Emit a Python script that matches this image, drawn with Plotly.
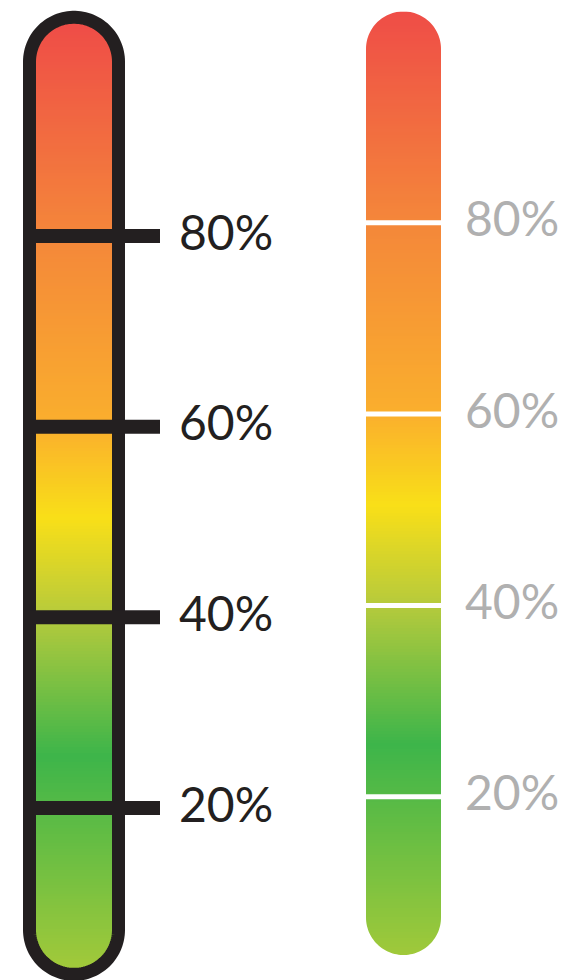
import numpy as np
import plotly.graph_objects as go

# ---------------- data ----------------
tick_values = [20, 40, 60, 80]
tick_labels = ["20%", "40%", "60%", "80%"]
gradient_stops = [3.5, 25.5, 40, 50.5, 60, 80, 102]          # percent positions
gradient_colors = ["#a0c93a", "#3db54a", "#b5ca3c", "#f9df18",
                   "#faaf2d", "#f4873a", "#ef4d47"]
bar_bottom, bar_top = 3.3, 102.1                               # extent of each bar (%)

# ---------------- layout config ----------------
W, H = 580, 980
OFF = 8  # page body margin of the browser
left_range = [1.12, 103.92]
right_range = [0.0, 102.46]
ZMIN, ZMAX = 0, 105

colorscale = [[0, gradient_colors[0]]]
for p, c in zip(gradient_stops, gradient_colors):
    colorscale.append([(p - ZMIN) / (ZMAX - ZMIN), c])
colorscale.append([1, gradient_colors[-1]])

fig = go.Figure()


def gradient_trace(x0, x1, y0, y1, yaxis):
    edges = np.linspace(y0, y1, 321)
    mids = (edges[:-1] + edges[1:]) / 2
    return go.Heatmap(
        x=[x0, x1], y=edges, z=[[v] for v in mids],
        colorscale=colorscale, zmin=ZMIN, zmax=ZMAX, showscale=False,
        hoverinfo="skip", yaxis=yaxis, xaxis="x",
    )


def px_per_unit(rng):
    return H / (rng[1] - rng[0])


def arc_points(cx, cy, r_px, k, start, end, n=60):
    t = np.linspace(start, end, n)
    xs = cx + r_px * np.cos(t)
    ys = cy + r_px * np.sin(t) / k
    return xs, ys


def mask_path(x0, x1, y0, y1, k):
    """White regions outside the rounded ends of a rectangle."""
    cx = (x0 + x1) / 2
    r = (x1 - x0) / 2
    rk = r / k
    pad = 3
    xs, ys = arc_points(cx, y1 - rk, r, k, np.pi, 0)
    d = f"M {x0 - pad},{y1 + 2 / k} L {x0 - pad},{y1 - rk} "
    d += " ".join(f"L {a},{b}" for a, b in zip(xs, ys))
    d += f" L {x1 + pad},{y1 - rk} L {x1 + pad},{y1 + 2 / k} Z "
    xs, ys = arc_points(cx, y0 + rk, r, k, np.pi, 2 * np.pi)
    d += f"M {x0 - pad},{y0 - 2 / k} L {x0 - pad},{y0 + rk} "
    d += " ".join(f"L {a},{b}" for a, b in zip(xs, ys))
    d += f" L {x1 + pad},{y0 + rk} L {x1 + pad},{y0 - 2 / k} Z"
    return d


def capsule_path(x0, x1, y0, y1, k):
    cx = (x0 + x1) / 2
    r = (x1 - x0) / 2
    rk = r / k
    xs_t, ys_t = arc_points(cx, y1 - rk, r, k, np.pi, 0)
    xs_b, ys_b = arc_points(cx, y0 + rk, r, k, 0, -np.pi)
    pts = list(zip(xs_t, ys_t)) + list(zip(xs_b, ys_b))
    d = f"M {pts[0][0]},{pts[0][1]} " + " ".join(f"L {a},{b}" for a, b in pts[1:]) + " Z"
    return d


kL = px_per_unit(left_range)
kR = px_per_unit(right_range)

# ---------- left (outlined) bar ----------
L_x0, L_x1 = 29.5, 118.5           # centerline of outline
L_y0 = bar_bottom - 0.75
L_y1 = bar_top + 0.85
fig.add_trace(gradient_trace(31, 117, L_y0, L_y1, "y"))

# ---------- right bar ----------
R_x0, R_x1 = 366, 441
fig.add_trace(gradient_trace(R_x0, R_x1, bar_bottom + 0.15, bar_top, "y2"))

shapes = []
shapes.append(dict(type="path", path=mask_path(L_x0, L_x1, L_y0, L_y1, kL),
                   xref="x", yref="y", fillcolor="white", line=dict(width=0)))
shapes.append(dict(type="path", path=mask_path(R_x0, R_x1, bar_bottom + 0.15, bar_top, kR),
                   xref="x", yref="y2", fillcolor="white", line=dict(width=0)))
shapes.append(dict(type="path", path=capsule_path(L_x0, L_x1, L_y0, L_y1, kL),
                   xref="x", yref="y", line=dict(color="#231f20", width=13)))
for v in tick_values:
    shapes.append(dict(type="line", x0=30, x1=160, y0=v, y1=v, xref="x", yref="y",
                       line=dict(color="#231f20", width=14)))
    shapes.append(dict(type="line", x0=R_x0 - 2, x1=R_x1 + 2, y0=v, y1=v, xref="x", yref="y2",
                       line=dict(color="white", width=5)))

annotations = []
for v, t in zip(tick_values, tick_labels):
    annotations.append(dict(x=177, y=v, xref="x", yref="y", text=t, showarrow=False,
                            xanchor="left", yanchor="middle", yshift=5,
                            font=dict(family="Lato", size=48, color="#231f20")))
    annotations.append(dict(x=463, y=v, xref="x", yref="y2", text=t, showarrow=False,
                            xanchor="left", yanchor="middle", yshift=5,
                            font=dict(family="Lato", size=48, color="#b0b0b0")))

fig.update_layout(
    width=W, height=H,
    margin=dict(l=0, r=0, t=0, b=0),
    paper_bgcolor="white", plot_bgcolor="white",
    showlegend=False,
    xaxis=dict(range=[OFF, W + OFF], visible=False, fixedrange=True),
    yaxis=dict(range=left_range, visible=False, fixedrange=True),
    yaxis2=dict(range=right_range, visible=False, overlaying="y", fixedrange=True),
    shapes=shapes, annotations=annotations,
)

fig.write_html("out.html")
